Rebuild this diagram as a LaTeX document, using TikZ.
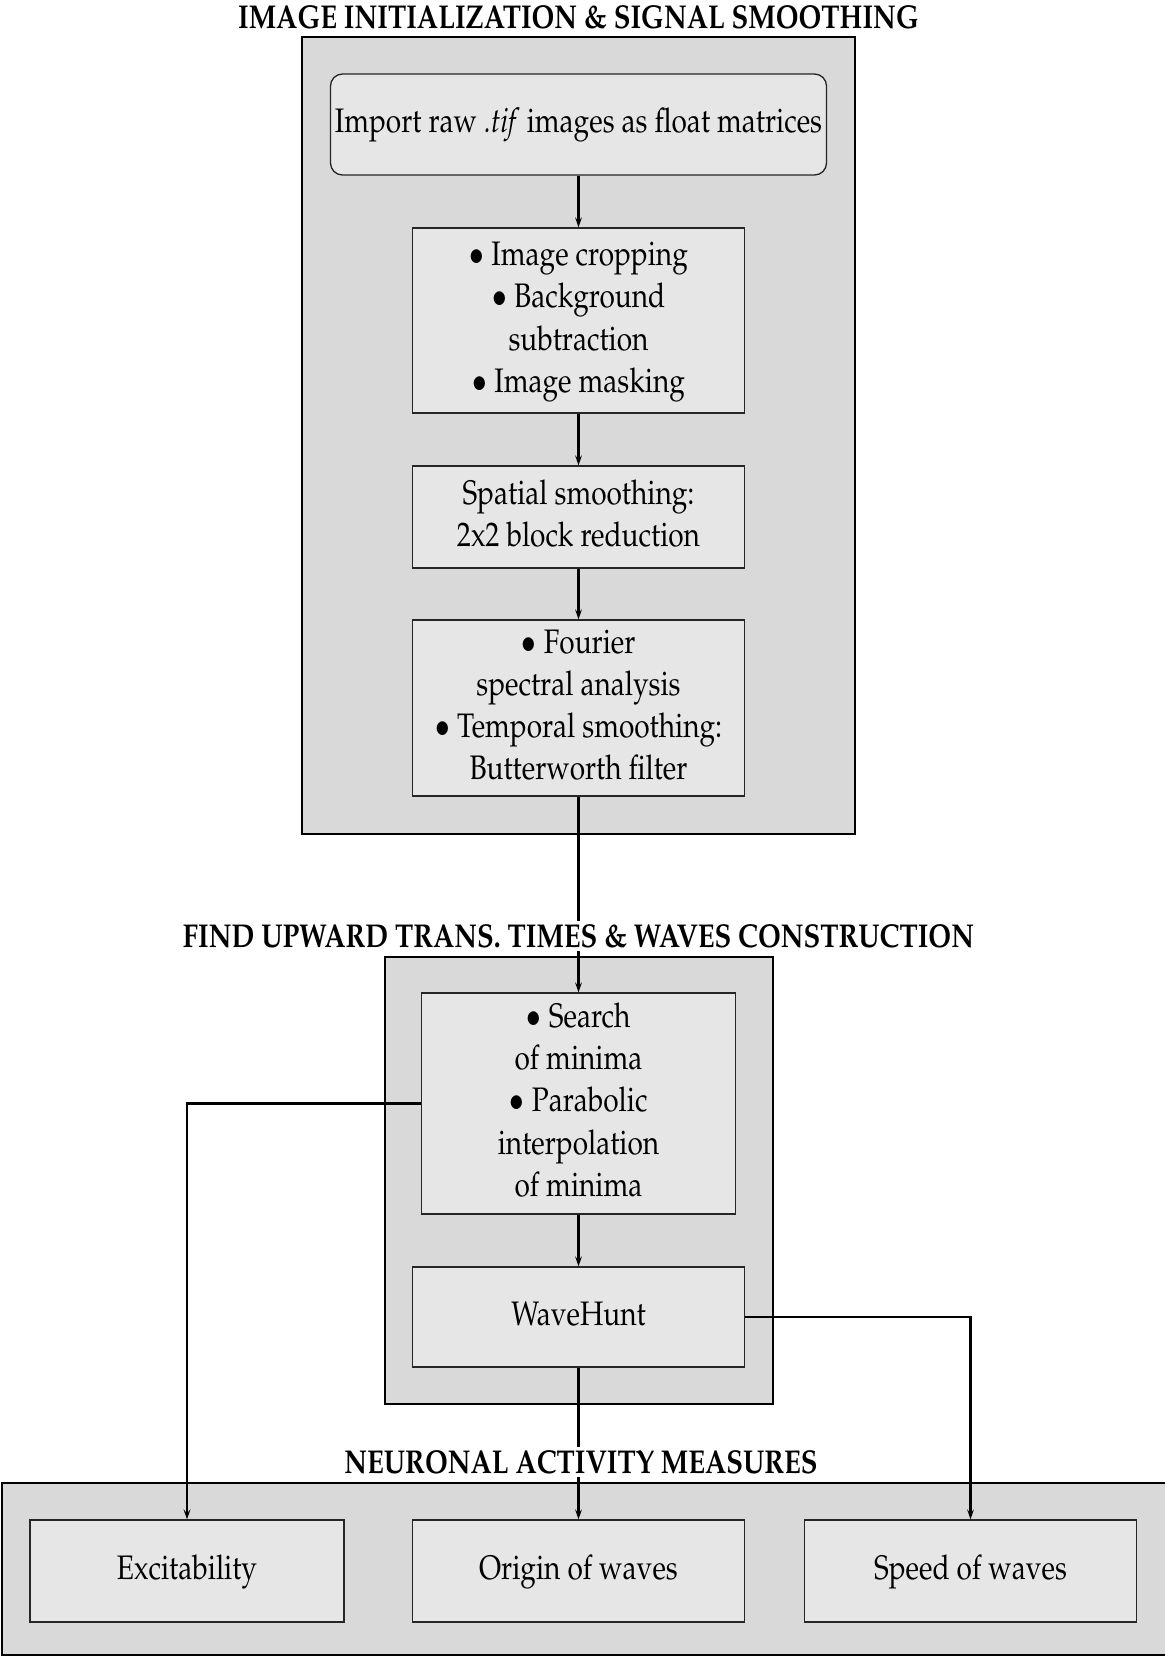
\documentclass[tikz,border=0pt]{standalone}
\usepackage[T1]{fontenc}
\usepackage{mathpazo}
\usepackage{graphicx}
\usetikzlibrary{arrows.meta}
\definecolor{outerfill}{RGB}{217,217,217}
\definecolor{innerfill}{RGB}{230,230,230}
\newcommand\sqz[1]{\scalebox{0.825}[1]{\begin{tabular}{@{}c@{}}#1\end{tabular}}}
\newcommand\sqt[1]{\scalebox{0.83}[1]{#1}}
\tikzset{
  grp/.style={draw=black, line width=1.3pt, fill=outerfill},
  stepbox/.style={draw=black!85, line width=0.65pt, fill=innerfill, inner sep=0pt,
    font=\fontsize{17}{21.15}\selectfont},
  ttl/.style={fill=white, inner sep=1.5pt, font=\fontsize{16.5}{19}\selectfont\bfseries},
  conn/.style={line width=1.1pt},
  arr/.style={conn, -{Stealth[length=5pt,width=3.4pt,inset=2pt]}}
}
\begin{document}
\begin{tikzpicture}[x=0.5pt,y=-0.5pt]
\useasboundingbox (0,0) rectangle (1164,1658);
% group boxes
\node[grp, inner sep=0pt, minimum width=276.5pt, minimum height=398.5pt] (g1) at (578.5,435.5) {};
\node[grp, inner sep=0pt, minimum width=194pt, minimum height=223.5pt] (g2) at (579,1180.5) {};
\node[grp, inner sep=0pt, minimum width=585pt, minimum height=86pt] (g3) at (587,1569) {};
% steps
\node[stepbox, rounded corners=6pt, minimum width=248pt, minimum height=50.5pt] (imp) at (578.5,124.5)
  {\sqz{Import raw \textit{.tif} images as float matrices}};
\node[stepbox, minimum width=166pt, minimum height=92.5pt] (crop) at (578.5,320.5)
  {\sqz{$\bullet$ Image cropping\\$\bullet$ Background\\subtraction\\$\bullet$ Image masking}};
\node[stepbox, minimum width=166pt, minimum height=51pt] (spat) at (578.5,517)
  {\sqz{Spatial smoothing:\\2x2 block reduction}};
\node[stepbox, minimum width=166pt, minimum height=88pt] (four) at (578.5,708)
  {\sqz{$\bullet$ Fourier\\spectral analysis\\$\bullet$ Temporal smoothing:\\Butterworth filter}};
\node[stepbox, minimum width=157pt, minimum height=110.5pt] (srch) at (578.5,1103.5)
  {\sqz{$\bullet$ Search\\of minima\\$\bullet$ Parabolic\\interpolation\\of minima}};
\node[stepbox, minimum width=166pt, minimum height=50pt] (wave) at (578.5,1317)
  {\sqz{WaveHunt}};
\node[stepbox, minimum width=157pt, minimum height=51pt] (exc) at (187,1571)
  {\sqz{Excitability}};
\node[stepbox, minimum width=166pt, minimum height=51pt] (orig) at (578.5,1571)
  {\sqz{Origin of waves}};
\node[stepbox, minimum width=166pt, minimum height=51pt] (speed) at (970.5,1571)
  {\sqz{Speed of waves}};
% connectors
\draw[arr] (imp) -- (crop);
\draw[arr] (crop) -- (spat);
\draw[arr] (spat) -- (four);
\draw[arr] (four) -- (srch);
\draw[arr] (srch) -- (wave);
\draw[arr] (wave) -- (orig);
\draw[arr] (srch.west) -| (exc.north);
\draw[arr] (wave.east) -| (speed.north);
% titles
\node[ttl] (t1) at (578.5,17) {\sqt{IMAGE INITIALIZATION \& SIGNAL SMOOTHING}};
\node[ttl] (t2) at (578.5,936) {\sqt{FIND UPWARD TRANS. TIMES \& WAVES CONSTRUCTION}};
\node[ttl] (t3) at (581,1462) {\sqt{NEURONAL ACTIVITY MEASURES}};
\end{tikzpicture}
\end{document}
